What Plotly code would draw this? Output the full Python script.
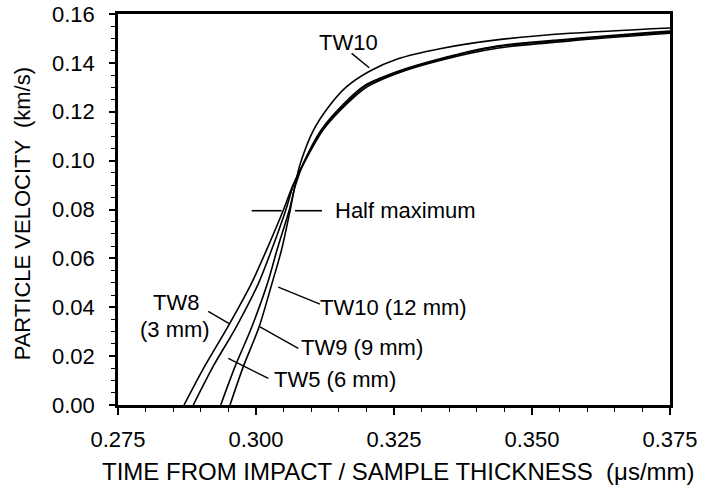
import plotly.graph_objects as go

# ---- data ----
TW8_X = [0.28696, 0.29066, 0.29484, 0.29918, 0.30190, 0.30489, 0.30670, 0.30870, 0.31214,
         0.31658, 0.32020, 0.32554, 0.33333, 0.34366, 0.35688, 0.375]
TW8_V = [0, 0.0157, 0.0318, 0.0498, 0.0634, 0.0794, 0.09, 0.099, 0.1125,
         0.1235, 0.1303, 0.1357, 0.141, 0.146, 0.149, 0.1521]

TW5_X = [0.28864, 0.29221, 0.29638, 0.30045, 0.30281, 0.30534, 0.30679, 0.30861, 0.31196,
         0.31643, 0.32005, 0.32549, 0.33333, 0.34361, 0.35688, 0.375]
TW5_V = [0, 0.0157, 0.0318, 0.0498, 0.0634, 0.0794, 0.09, 0.099, 0.1125,
         0.1238, 0.1308, 0.136, 0.1414, 0.1466, 0.1495, 0.1526]

TW9_X = [0.29361, 0.29620, 0.29922, 0.30208, 0.30380, 0.30598, 0.30716, 0.30861, 0.31178,
         0.31621, 0.31984, 0.32536, 0.33333, 0.34361, 0.35688, 0.375]
TW9_V = [0, 0.0157, 0.0318, 0.0498, 0.0634, 0.0794, 0.09, 0.099, 0.1125,
         0.124, 0.131, 0.1363, 0.1417, 0.1469, 0.1498, 0.153]

TW10_X = [0.29529, 0.29770, 0.30054, 0.30290, 0.30462, 0.30616, 0.30707, 0.30806, 0.31042,
          0.31341, 0.31643, 0.32065, 0.32549, 0.33333, 0.34361, 0.35688, 0.375]
TW10_V = [0, 0.0157, 0.0318, 0.0498, 0.0634, 0.0794, 0.09, 0.099, 0.1125,
          0.1228, 0.1303, 0.1367, 0.1415, 0.1458, 0.1494, 0.1521, 0.1543]

HALF_MAX_V = 0.0795
HALF_LEFT_X = [0.29922, 0.30464]
HALF_RIGHT_X = [0.30707, 0.31196]

# labels: (text, x, y, xanchor)
LABELS = [
    ("TW10", 0.31667, 0.1485, "center"),
    ("Half maximum", 0.31390, 0.0795, "left"),
    ("TW8", 0.28551, 0.0418, "center"),
    ("(3 mm)", 0.28533, 0.0310, "center"),
    ("TW10 (12 mm)", 0.31130, 0.0401, "left"),
    ("TW9 (9 mm)", 0.30775, 0.0237, "left"),
    ("TW5 (6 mm)", 0.30290, 0.0106, "left"),
]
# leader lines: (x0, y0, x1, y1)
LEADERS = [
    (0.31733, 0.1439, 0.32051, 0.1380),
    (0.29135, 0.0383, 0.29529, 0.0331),
    (0.30404, 0.0482, 0.31159, 0.0413),
    (0.30072, 0.0320, 0.30766, 0.0232),
    (0.29498, 0.0191, 0.30223, 0.0109),
]

X_RANGE = [0.275, 0.375]
Y_RANGE = [0, 0.16]

FONT = "Liberation Sans, Arial, sans-serif"

fig = go.Figure()
for xs, vs, name in [(TW8_X, TW8_V, "TW8"), (TW5_X, TW5_V, "TW5"),
                     (TW9_X, TW9_V, "TW9"), (TW10_X, TW10_V, "TW10")]:
    fig.add_trace(go.Scatter(x=xs, y=vs, mode="lines", name=name,
                             line=dict(color="black", width=1.6, shape="spline", smoothing=0.8),
                             showlegend=False, hoverinfo="skip"))

for xs in (HALF_LEFT_X, HALF_RIGHT_X):
    fig.add_trace(go.Scatter(x=xs, y=[HALF_MAX_V, HALF_MAX_V], mode="lines",
                             line=dict(color="black", width=1.6),
                             showlegend=False, hoverinfo="skip"))

for (x0, y0, x1, y1) in LEADERS:
    fig.add_trace(go.Scatter(x=[x0, x1], y=[y0, y1], mode="lines",
                             line=dict(color="black", width=1.4),
                             showlegend=False, hoverinfo="skip"))

for text, x, y, xa in LABELS:
    fig.add_annotation(x=x, y=y, text=text, showarrow=False, xanchor=xa, yanchor="middle",
                       font=dict(family=FONT, size=22, color="black"))

fig.add_annotation(xref="paper", yref="paper", x=-0.174, y=0.49,
                   text="PARTICLE VELOCITY  (km/s)", textangle=-90, showarrow=False,
                   xanchor="center", yanchor="middle",
                   font=dict(family=FONT, size=22, color="black"))
fig.add_annotation(xref="paper", yref="paper", x=0.509, y=-0.169,
                   text="TIME FROM IMPACT / SAMPLE THICKNESS  (\u03bcs/mm)", showarrow=False,
                   xanchor="center", yanchor="middle",
                   font=dict(family=FONT, size=24, color="black"))

fig.update_layout(
    width=705, height=493,
    margin=dict(l=118, r=35, t=14, b=88),
    paper_bgcolor="white", plot_bgcolor="white",
    font=dict(family=FONT, size=22, color="black"),
    xaxis=dict(range=X_RANGE, dtick=0.025, tick0=0.275, tickformat=".3f",
               automargin=False,
               showgrid=False, zeroline=False,
               showline=True, linecolor="black", linewidth=2.5, mirror=True,
               ticks="outside", ticklen=7, tickwidth=1.5, tickcolor="black",
               ticklabelstandoff=6,
               minor=dict(dtick=0.005, tick0=0.275, ticks="outside", ticklen=4,
                          tickwidth=1.2, tickcolor="black", showgrid=False),
               tickfont=dict(family=FONT, size=22)),
    yaxis=dict(range=Y_RANGE, dtick=0.02, tickformat=".2f",
               automargin=False,
               showgrid=False, zeroline=False,
               showline=True, linecolor="black", linewidth=2.5, mirror=True,
               ticks="outside", ticklen=6, tickwidth=1.5, tickcolor="black",
               ticklabelstandoff=10,
               minor=dict(dtick=0.005, ticks="outside", ticklen=4,
                          tickwidth=1.2, tickcolor="black", showgrid=False),
               tickfont=dict(family=FONT, size=22)),
)

fig.write_html("out.html",
               config=dict(displayModeBar=False),
               post_script="document.body.style.margin='0px';document.body.style.overflow='hidden';")
